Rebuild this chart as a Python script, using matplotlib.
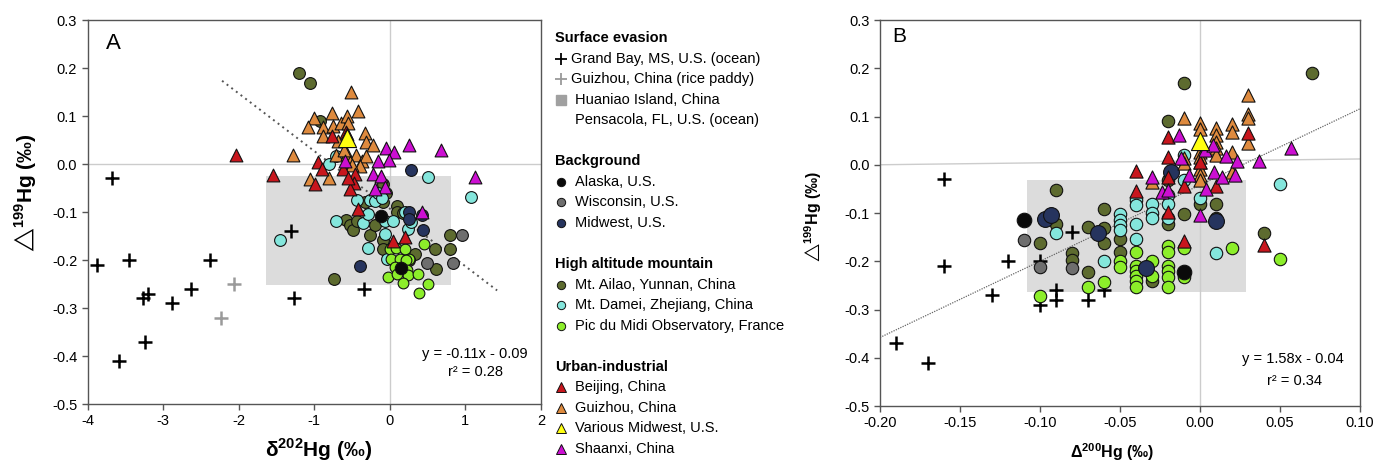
import matplotlib
matplotlib.use("Agg")
import matplotlib.pyplot as plt
import numpy as np

plt.rcParams['font.family'] = ['Liberation Sans', 'DejaVu Sans']
plt.rcParams['mathtext.fontset'] = 'custom'
plt.rcParams['mathtext.rm'] = 'Liberation Sans'
plt.rcParams['mathtext.bf'] = 'Liberation Sans:bold'
plt.rcParams['mathtext.fallback'] = 'stixsans'
plt.rcParams['axes.unicode_minus'] = False

# ---- Panel A: d202Hg vs D199Hg ----
a_grandbay_x = [-3.67, -3.88, -3.45, -3.20, -3.27, -2.88, -2.63, -2.38, -3.24, -3.58, -1.31, -1.27, -0.34]
a_grandbay_y = [-0.03, -0.21, -0.20, -0.27, -0.28, -0.29, -0.26, -0.20, -0.37, -0.41, -0.14, -0.28, -0.26]
a_paddy_x = [-2.06, -2.23]
a_paddy_y = [-0.25, -0.32]

a_ailao_x = [-1.20, -1.06, -0.93, -0.33, -0.09, 0.09, 0.09, -0.58, -0.53, -0.49, -0.44, -0.26, -0.20,
             -0.09, -0.09, 0.33, 0.26, 0.60, 0.79, 0.80, 0.61, -0.74, 0.17, -0.09, -0.05]
a_ailao_y = [0.189, 0.169, 0.089, -0.080, -0.080, -0.087, -0.100, -0.116, -0.128, -0.138, -0.118, -0.147, -0.128,
             -0.159, -0.178, -0.187, -0.200, -0.178, -0.178, -0.147, -0.218, -0.239, -0.103, -0.042, -0.060]
a_damei_x = [-0.80, -0.71, 0.51, 1.08, -1.45, -0.71, -0.44, -0.26, -0.20, -0.35, -0.29, -0.07, 0.04,
             0.24, -0.07, -0.29, -0.04, -0.15, -0.10, 0.28, 0.20]
a_damei_y = [0.000, 0.016, -0.028, -0.069, -0.158, -0.118, -0.076, -0.075, -0.078, -0.123, -0.104, -0.118, -0.118,
             -0.135, -0.145, -0.176, -0.198, -0.060, -0.070, -0.120, -0.100]
a_pic_x = [0.00, 0.08, 0.20, 0.01, 0.13, 0.26, 0.07, 0.21, 0.23, 0.24, 0.18, 0.37, 0.51, 0.39, -0.02, 0.45, 0.10]
a_pic_y = [-0.178, -0.176, -0.178, -0.197, -0.197, -0.197, -0.214, -0.200, -0.221, -0.231, -0.247, -0.229,
           -0.249, -0.268, -0.235, -0.166, -0.230]
a_alaska_x = [-0.12, 0.15]
a_alaska_y = [-0.108, -0.216]
a_wisconsin_x = [0.95, 0.49, 0.84]
a_wisconsin_y = [-0.147, -0.206, -0.207]
a_midwest_x = [0.28, 0.26, 0.26, 0.42, 0.44, -0.40]
a_midwest_y = [-0.013, -0.100, -0.114, -0.107, -0.137, -0.213]

a_guizhou_x = [-0.52, -0.77, -0.42, -1.00, -1.08, -0.88, -0.75, -0.64, -0.56, -0.55, -0.89, -0.33, -0.31,
               -0.22, -0.68, -1.28, -0.71, -0.57, -0.45, -0.37, -0.53, -0.31, -1.06, -0.80, -0.40, -0.50, -0.60]
a_guizhou_y = [0.149, 0.107, 0.110, 0.096, 0.077, 0.077, 0.079, 0.085, 0.099, 0.085, 0.058, 0.065, 0.045,
               0.039, 0.048, 0.018, 0.018, 0.020, 0.018, 0.006, 0.004, 0.017, -0.032, -0.030, -0.005, -0.003, 0.030]
a_beijing_x = [-2.03, -1.55, -0.77, -0.58, -0.95, -0.90, -0.62, -0.46, -0.99, -0.48, -0.42, 0.04, 0.20, -0.53, -0.55]
a_beijing_y = [0.018, -0.022, 0.058, 0.066, 0.004, -0.011, -0.011, -0.021, -0.042, -0.039, -0.094, -0.161,
               -0.152, -0.052, -0.030]
a_shaanxi_x = [-0.05, 0.06, 0.26, 0.68, 1.13, -0.01, -0.16, -0.22, -0.11, -0.07, -0.20, -0.59, -0.57, 0.43]
a_shaanxi_y = [0.033, 0.025, 0.039, 0.030, -0.028, 0.008, 0.006, -0.021, -0.024, -0.048, -0.053, 0.006, 0.062, -0.101]
a_various_x = [-0.57]
a_various_y = [0.054]

# ---- Panel B: D200Hg vs D199Hg ----
b_grandbay_x = [-0.16, -0.16, -0.12, -0.13, -0.10, -0.10, -0.09, -0.09, -0.08, -0.07, -0.06, -0.19, -0.17]
b_grandbay_y = [-0.03, -0.21, -0.20, -0.27, -0.20, -0.29, -0.26, -0.28, -0.14, -0.28, -0.26, -0.37, -0.41]

b_ailao_x = [-0.10, -0.09, -0.09, -0.08, -0.08, -0.07, -0.07, -0.06, -0.06, -0.06, -0.05, -0.05, -0.03,
             -0.02, -0.02, -0.02, -0.01, -0.01, 0.00, 0.01, 0.01, 0.04, 0.07]
b_ailao_y = [-0.163, -0.053, -0.123, -0.183, -0.197, -0.130, -0.222, -0.092, -0.131, -0.162, -0.153, -0.181, -0.241,
             -0.123, 0.090, -0.032, 0.169, -0.102, -0.082, -0.081, -0.110, -0.142, 0.190]
b_damei_x = [-0.09, -0.06, -0.05, -0.05, -0.05, -0.05, -0.04, -0.04, -0.04, -0.04, -0.03, -0.03, -0.03,
             -0.02, -0.02, -0.02, -0.01, -0.01, 0.00, 0.01, 0.05]
b_damei_y = [-0.142, -0.200, -0.102, -0.114, -0.124, -0.135, -0.073, -0.083, -0.123, -0.153, -0.082, -0.100, -0.111,
             -0.063, -0.082, -0.110, 0.020, -0.032, -0.069, -0.182, -0.040]
b_pic_x = [-0.10, -0.07, -0.06, -0.05, -0.05, -0.04, -0.04, -0.04, -0.04, -0.04, -0.04, -0.03, -0.03,
           -0.02, -0.02, -0.02, -0.02, -0.02, -0.02, -0.01, -0.01, 0.02, 0.05]
b_pic_y = [-0.272, -0.254, -0.243, -0.200, -0.212, -0.181, -0.210, -0.221, -0.231, -0.241, -0.254, -0.200, -0.231,
           -0.169, -0.181, -0.210, -0.221, -0.233, -0.254, -0.172, -0.233, -0.172, -0.195]
b_alaska_x = [-0.11, -0.01]
b_alaska_y = [-0.114, -0.223]
b_wisconsin_x = [-0.11, -0.10, -0.08]
b_wisconsin_y = [-0.155, -0.212, -0.214]
b_midwest_x = [-0.097, -0.093, -0.064, -0.034, -0.018, 0.010]
b_midwest_y = [-0.112, -0.104, -0.142, -0.214, -0.014, -0.117]

b_guizhou_x = [-0.03, -0.01, -0.01, -0.01, 0.00, 0.00, 0.00, 0.00, 0.00, 0.00, 0.00, 0.00, 0.01,
               0.01, 0.01, 0.01, 0.01, 0.02, 0.02, 0.02, 0.02, 0.03, 0.03, 0.03, 0.03]
b_guizhou_y = [-0.035, 0.097, 0.013, 0.003, 0.087, 0.075, 0.027, 0.016, 0.006, -0.008, -0.021, -0.032, 0.076,
               0.061, 0.047, 0.035, 0.020, 0.085, 0.068, 0.027, -0.014, 0.145, 0.106, 0.097, 0.046]
b_beijing_x = [-0.04, -0.04, -0.02, -0.02, -0.02, -0.01, -0.01, 0.00, 0.01, 0.03, 0.04, -0.02]
b_beijing_y = [-0.012, -0.055, 0.058, 0.016, -0.097, -0.044, -0.157, 0.006, -0.043, 0.066, -0.166, -0.025]
b_shaanxi_x = [-0.030, -0.024, -0.020, -0.013, -0.012, -0.007, 0.000, 0.003, 0.004, 0.008, 0.009, 0.014,
               0.016, 0.022, 0.023, 0.037, 0.057]
b_shaanxi_y = [-0.025, -0.057, -0.052, 0.062, 0.013, -0.022, -0.104, 0.030, -0.050, 0.040, -0.015, -0.025,
               0.018, -0.022, 0.008, 0.008, 0.035]
b_various_x = [0.00]
b_various_y = [0.050]

# grey boxes (Huaniao Island / Pensacola range): x0, x1, y0, y1
a_box = [-1.64, 0.81, -0.253, -0.024]
b_box = [-0.108, 0.029, -0.264, -0.031]

# regression lines
a_fit_slope, a_fit_icpt, a_fit_x = -0.12, -0.093, [-2.22, 1.42]
b_fit_slope, b_fit_icpt, b_fit_x = 1.58, -0.042, [-0.20, 0.10]
b_zero_x = [-0.20, 0.10]
b_zero_y = [0.0, 0.012]

a_xticks = [-4, -3, -2, -1, 0, 1, 2]
b_xticks = [-0.20, -0.15, -0.10, -0.05, 0.00, 0.05, 0.10]
yticks = [-0.5, -0.4, -0.3, -0.2, -0.1, 0.0, 0.1, 0.2, 0.3]

# colours
C_AILAO = '#5d6b2f'
C_DAMEI = '#84e6dc'
C_PIC = '#8cee2a'
C_ALASKA = '#0a0a0a'
C_WISC = '#6e6e6e'
C_MIDW = '#26345e'
C_BEIJ = '#c8161d'
C_GUIZ = '#de8a3e'
C_VAR = '#ffff10'
C_SHAAN = '#cc0fd2'
C_BOX = '#dcdcdc'

D199_LABEL = r'$\bigtriangleup^{\mathbf{199}}$Hg (‰)'

fig = plt.figure(figsize=(13.81, 4.62), dpi=100)
axA = fig.add_axes([0.0634, 0.1255, 0.3283, 0.8312])
axB = fig.add_axes([0.6372, 0.1212, 0.3476, 0.8355])


def draw_points(ax, groups, crosses):
    for xs, ys, col in crosses:
        ax.scatter(xs, ys, marker='+', s=110, c=col, linewidths=1.8, zorder=3)
    for xs, ys, mk, col, size in groups:
        ax.scatter(xs, ys, marker=mk, s=size, c=col, edgecolors='#111111',
                   linewidths=0.8, zorder=4)


def style_axes(ax):
    for sp in ax.spines.values():
        sp.set_color('#555555')
        sp.set_linewidth(1.0)
    ax.tick_params(direction='out', length=4, width=1, color='#555555',
                   labelsize=10.5, top=False, right=False)
    ax.set_yticks(yticks)
    ax.set_yticklabels(['%.1f' % v for v in yticks])


# Panel A
axA.add_patch(plt.Rectangle((a_box[0], a_box[2]), a_box[1] - a_box[0], a_box[3] - a_box[2],
                            facecolor=C_BOX, edgecolor='none', zorder=0))
axA.axhline(0, color='#cccccc', lw=1, zorder=1)
axA.axvline(0, color='#cccccc', lw=1, zorder=1)
fx = np.array(a_fit_x)
axA.plot(fx, a_fit_slope * fx + a_fit_icpt, ls=(0, (1, 2)), color='#555555', lw=1.4, zorder=2)
draw_points(axA,
            [(a_ailao_x, a_ailao_y, 'o', C_AILAO, 72),
             (a_damei_x, a_damei_y, 'o', C_DAMEI, 72),
             (a_pic_x, a_pic_y, 'o', C_PIC, 60),
             (a_wisconsin_x, a_wisconsin_y, 'o', C_WISC, 72),
             (a_midwest_x, a_midwest_y, 'o', C_MIDW, 72),
             (a_alaska_x, a_alaska_y, 'o', C_ALASKA, 80),
             (a_guizhou_x, a_guizhou_y, '^', C_GUIZ, 85),
             (a_beijing_x, a_beijing_y, '^', C_BEIJ, 85),
             (a_shaanxi_x, a_shaanxi_y, '^', C_SHAAN, 85),
             (a_various_x, a_various_y, '^', C_VAR, 170)],
            [(a_grandbay_x, a_grandbay_y, 'black'), (a_paddy_x, a_paddy_y, '#9a9a9a')])
axA.set_xlim(-4, 2)
axA.set_ylim(-0.5, 0.3)
axA.set_xticks(a_xticks)
style_axes(axA)
axA.set_xlabel(r'δ$^{\mathbf{202}}$Hg (‰)', fontsize=15, fontweight='bold')
axA.xaxis.set_label_coords(0.51, -0.085)
axA.set_ylabel(D199_LABEL, fontsize=15, fontweight='bold')
axA.yaxis.set_label_coords(-0.107, 0.55)
axA.text(0.04, 0.94, 'A', transform=axA.transAxes, fontsize=16, va='center')
axA.text(0.855, 0.13, 'y = -0.11x - 0.09', transform=axA.transAxes, fontsize=10.5, ha='center', va='center')
axA.text(0.856, 0.083, 'r² = 0.28', transform=axA.transAxes, fontsize=10.5, ha='center', va='center')

# Panel B
axB.add_patch(plt.Rectangle((b_box[0], b_box[2]), b_box[1] - b_box[0], b_box[3] - b_box[2],
                            facecolor=C_BOX, edgecolor='none', zorder=0))
axB.plot(b_zero_x, b_zero_y, color='#cccccc', lw=1, zorder=1)
axB.axvline(0, color='#cccccc', lw=1, zorder=1)
fx = np.array(b_fit_x)
axB.plot(fx, b_fit_slope * fx + b_fit_icpt, ls=(0, (1, 1)), color='#666666', lw=0.9, zorder=2)
draw_points(axB,
            [(b_ailao_x, b_ailao_y, 'o', C_AILAO, 80),
             (b_damei_x, b_damei_y, 'o', C_DAMEI, 80),
             (b_pic_x, b_pic_y, 'o', C_PIC, 80),
             (b_wisconsin_x, b_wisconsin_y, 'o', C_WISC, 80),
             (b_midwest_x, b_midwest_y, 'o', C_MIDW, 130),
             (b_alaska_x, b_alaska_y, 'o', C_ALASKA, 110),
             (b_guizhou_x, b_guizhou_y, '^', C_GUIZ, 90),
             (b_beijing_x, b_beijing_y, '^', C_BEIJ, 90),
             (b_shaanxi_x, b_shaanxi_y, '^', C_SHAAN, 90),
             (b_various_x, b_various_y, '^', C_VAR, 170)],
            [(b_grandbay_x, b_grandbay_y, 'black')])
axB.set_xlim(-0.2, 0.1)
axB.set_ylim(-0.5, 0.3)
axB.set_xticks(b_xticks)
axB.set_xticklabels(['%.2f' % v for v in b_xticks])
style_axes(axB)
axB.set_xlabel(r'Δ$^{\mathbf{200}}$Hg (‰)', fontsize=11.5, fontweight='bold')
axB.xaxis.set_label_coords(0.483, -0.092)
axB.set_ylabel(D199_LABEL, fontsize=11.5, fontweight='bold')
axB.yaxis.set_label_coords(-0.117, 0.49)
axB.text(0.025, 0.956, 'B', transform=axB.transAxes, fontsize=15, va='center')
axB.text(0.861, 0.122, 'y = 1.58x - 0.04', transform=axB.transAxes, fontsize=10.5, ha='center', va='center')
axB.text(0.864, 0.065, 'r² = 0.34', transform=axB.transAxes, fontsize=10.5, ha='center', va='center')

# Legend (drawn by hand in pixel coordinates)
legend_rows = [
    ('head', 'Surface evasion', None, None),
    ('item', 'Grand Bay, MS, U.S. (ocean)', '+', 'black'),
    ('item', 'Guizhou, China (rice paddy)', '+', '#9a9a9a'),
    ('item', 'Huaniao Island, China', 's', '#a0a0a0'),
    ('item', 'Pensacola, FL, U.S. (ocean)', None, None),
    ('gap', '', None, None),
    ('head', 'Background', None, None),
    ('item', 'Alaska, U.S.', 'o', C_ALASKA),
    ('item', 'Wisconsin, U.S.', 'o', C_WISC),
    ('item', 'Midwest, U.S.', 'o', C_MIDW),
    ('gap', '', None, None),
    ('head', 'High altitude mountain', None, None),
    ('item', 'Mt. Ailao, Yunnan, China', 'o', C_AILAO),
    ('item', 'Mt. Damei, Zhejiang, China', 'o', C_DAMEI),
    ('item', 'Pic du Midi Observatory, France', 'o', C_PIC),
    ('gap', '', None, None),
    ('head', 'Urban-industrial', None, None),
    ('item', 'Beijing, China', '^', C_BEIJ),
    ('item', 'Guizhou, China', '^', C_GUIZ),
    ('item', 'Various Midwest, U.S.', '^', C_VAR),
    ('item', 'Shaanxi, China', '^', C_SHAAN),
]
lax = fig.add_axes([0, 0, 1, 1], zorder=-1)
lax.set_xlim(0, 1381)
lax.set_ylim(462, 0)
lax.axis('off')
y = 38.0
for kind, label, mk, col in legend_rows:
    if kind == 'head':
        lax.text(555, y, label, fontsize=10.5, fontweight='bold', va='center', ha='left')
    elif kind == 'item':
        if mk == '+':
            lax.plot(561, y, marker='+', ms=8, mew=1.3, color=col, ls='none')
            lax.text(571, y, label, fontsize=10.5, va='center', ha='left')
        else:
            if mk == 's':
                lax.plot(561, y, marker='s', ms=7, color=col, mec=col, ls='none')
            elif mk is not None:
                lax.plot(561, y, marker=mk, ms=6 if mk == 'o' else 7, color=col,
                         mec='#111111', mew=0.7, ls='none')
            lax.text(575, y, label, fontsize=10.5, va='center', ha='left')
    y += 20.55

fig.savefig('out.png', dpi=100)
